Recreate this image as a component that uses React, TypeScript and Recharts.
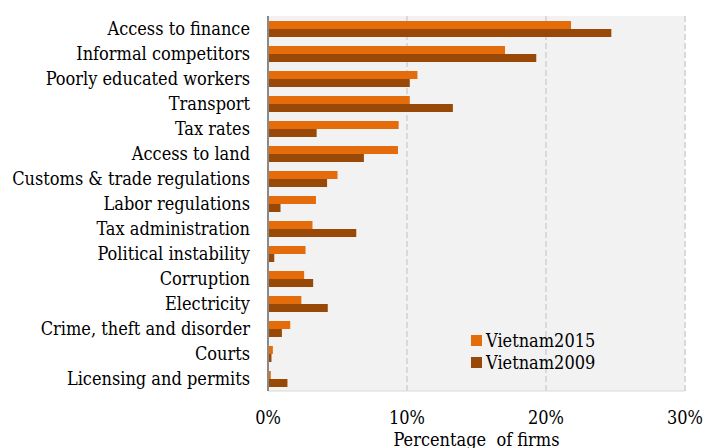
import React from "react";
import { BarChart, Bar, XAxis, YAxis, CartesianGrid, Legend } from "recharts";

const categories = [
  "Access to finance",
  "Informal competitors",
  "Poorly educated workers",
  "Transport",
  "Tax rates",
  "Access to land",
  "Customs & trade regulations",
  "Labor regulations",
  "Tax administration",
  "Political instability",
  "Corruption",
  "Electricity",
  "Crime, theft and disorder",
  "Courts",
  "Licensing and permits",
];

const vietnam2015 = [21.8, 17.05, 10.75, 10.2, 9.4, 9.35, 5.0, 3.45, 3.2, 2.7, 2.6, 2.4, 1.6, 0.35, 0.2];
const vietnam2009 = [24.7, 19.3, 10.2, 13.3, 3.5, 6.9, 4.25, 0.9, 6.35, 0.45, 3.25, 4.3, 1.0, 0.25, 1.4];

const xTicks = [0, 10, 20, 30];

const seriesNames = ["Vietnam2015", "Vietnam2009"];
const colors = ["#E46C0A", "#984807"];

const data = categories.map((name, i) => ({
  name,
  v2015: vietnam2015[i],
  v2009: vietnam2009[i],
}));

const FONT = "'DejaVu Serif Condensed', 'DejaVu Serif', serif";
const FS = 18;

const LegendContent = (props: any) => {
  const payload = [...(props.payload || [])].sort(
    (a: any, b: any) => seriesNames.indexOf(a.value) - seriesNames.indexOf(b.value)
  );
  return (
    <div style={{ fontFamily: FONT, fontSize: FS, color: "#000", whiteSpace: "nowrap", width: 200 }}>
      {payload.map((p: any, i: number) => (
        <div key={i} style={{ display: "flex", alignItems: "center", height: 22 }}>
          <span
            style={{
              display: "inline-block",
              width: 11,
              height: 11,
              flexShrink: 0,
              background: colors[seriesNames.indexOf(p.value)] || p.color,
              marginRight: 4,
            }}
          />
          <span>{p.value}</span>
        </div>
      ))}
    </div>
  );
};

export default function App() {
  return (
    <div style={{ position: "absolute", left: 0, top: 0 }}>
      <BarChart
        width={706}
        height={448}
        data={data}
        layout="vertical"
        margin={{ top: 16, right: 21, bottom: 0, left: 0 }}
        barCategoryGap={5}
        barGap={0}
      >
        <CartesianGrid
          horizontal={false}
          vertical={true}
          fill="#F2F2F2"
          stroke="#D9D9D9"
          strokeWidth={2}
          strokeDasharray="6 3"
        />
        <XAxis
          type="number"
          domain={[0, 30]}
          ticks={xTicks}
          tickFormatter={(v: number) => `${v}%`}
          axisLine={{ stroke: "#D9D9D9", strokeWidth: 1 }}
          tickLine={false}
          tickSize={0}
          tickMargin={20}
          height={57}
          tick={{ fill: "#000", fontSize: FS, fontFamily: FONT }}
          label={(props: any) => {
            const vb = props.viewBox || {};
            return (
              <text
                x={vb.x + vb.width / 2}
                y={vb.y + 55}
                textAnchor="middle"
                fill="#000"
                fontFamily={FONT}
                fontSize={FS}
                style={{ whiteSpace: "pre" }}
              >
                {"Percentage  of firms"}
              </text>
            );
          }}
        />
        <YAxis
          type="category"
          dataKey="name"
          width={268}
          axisLine={{ stroke: "#898989", strokeWidth: 2 }}
          tickLine={false}
          tickSize={0}
          tickMargin={18}
          interval={0}
          tick={{ fill: "#000", fontSize: FS, fontFamily: FONT }}
        />
        <Legend
          layout="vertical"
          content={<LegendContent />}
          wrapperStyle={{
            position: "absolute",
            left: 471,
            top: 329,
            width: 0,
            height: 0,
            overflow: "visible",
          }}
        />
        <Bar dataKey="v2015" name={seriesNames[0]} fill={colors[0]} isAnimationActive={false} />
        <Bar dataKey="v2009" name={seriesNames[1]} fill={colors[1]} isAnimationActive={false} />
      </BarChart>
    </div>
  );
}
